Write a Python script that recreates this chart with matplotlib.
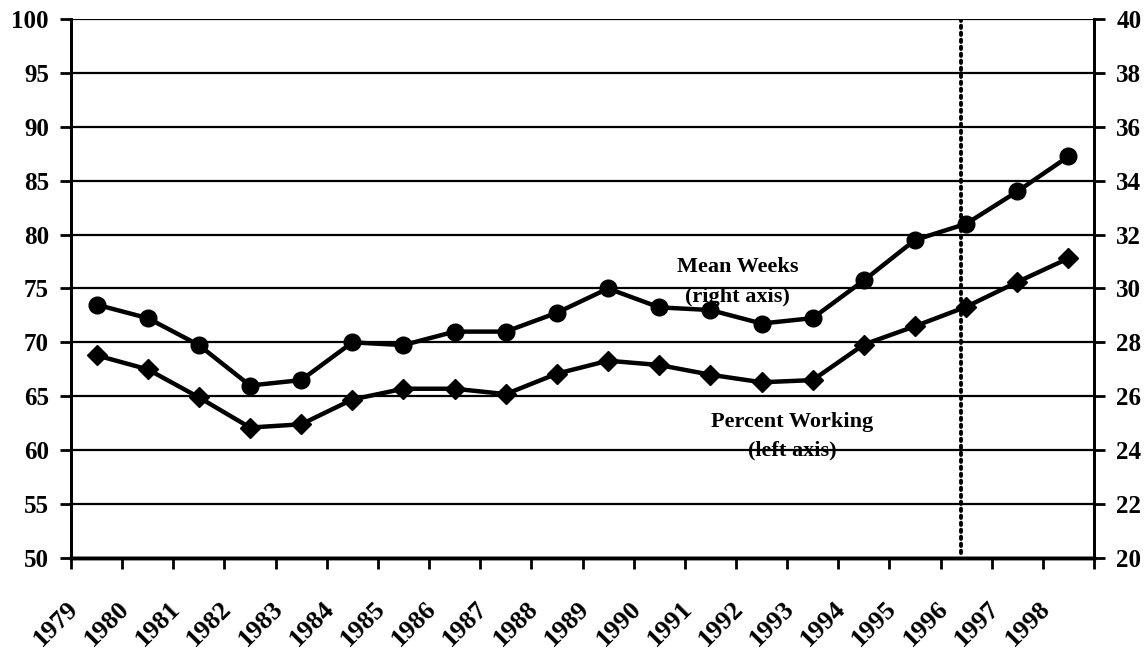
import matplotlib
matplotlib.use("Agg")
import matplotlib.pyplot as plt
from matplotlib.ticker import FixedLocator

plt.rcParams['font.family'] = ['Liberation Serif', 'DejaVu Serif']
plt.rcParams['font.weight'] = 'bold'

years = ['1979', '1980', '1981', '1982', '1983', '1984', '1985', '1986', '1987', '1988',
         '1989', '1990', '1991', '1992', '1993', '1994', '1995', '1996', '1997', '1998']
# percent working (left axis)
pct_working = [68.8, 67.5, 64.9, 62.1, 62.4, 64.7, 65.7, 65.7, 65.2, 67.1,
               68.3, 67.9, 67.0, 66.3, 66.5, 69.8, 71.5, 73.3, 75.6, 77.8]
# mean weeks (right axis)
mean_weeks = [29.4, 28.9, 27.9, 26.4, 26.6, 28.0, 27.9, 28.4, 28.4, 29.1,
              30.0, 29.3, 29.2, 28.7, 28.9, 30.3, 31.8, 32.4, 33.6, 34.9]
left_ticks = [50, 55, 60, 65, 70, 75, 80, 85, 90, 95, 100]
right_ticks = [20, 22, 24, 26, 28, 30, 32, 34, 36, 38, 40]
marker_year = '1996'

x = list(range(len(years)))

fig = plt.figure(figsize=(11.47, 6.51), dpi=100)
ax = fig.add_axes([0.0619, 0.1429, 0.8919, 0.8279])
ax2 = ax.twinx()

ax.set_xlim(-0.5, len(years) - 0.5)
ax.set_ylim(50, 100)
ax2.set_ylim(20, 40)
ax.set_yticks(left_ticks)
ax2.set_yticks(right_ticks)
ax.yaxis.grid(True, color='black', linewidth=1.6)
ax.set_axisbelow(True)

# category boundaries get tick marks, centres get the labels
ax.xaxis.set_major_locator(FixedLocator([i - 0.5 for i in range(len(years) + 1)]))
ax.xaxis.set_minor_locator(FixedLocator([i - 0.27 for i in x]))
ax.set_xticklabels([''] * (len(years) + 1))
ax.set_xticklabels(years, minor=True, rotation=45, ha='right', va='top',
                   fontsize=19, fontweight='bold')
ax.tick_params(axis='x', which='major', length=8, width=2, direction='out', color='black')
ax.tick_params(axis='x', which='minor', length=0, pad=28)

ax.tick_params(axis='y', length=8, width=2, pad=8, labelsize=18)
ax2.tick_params(axis='y', length=8, width=2, pad=8, labelsize=18)
for lab in ax.get_yticklabels() + ax2.get_yticklabels():
    lab.set_fontweight('bold')

for a in (ax, ax2):
    for side in ('left', 'right'):
        a.spines[side].set_linewidth(2)
    a.spines['bottom'].set_linewidth(2.5)
    a.spines['top'].set_visible(False)

ax.plot(x, pct_working, color='black', linewidth=3.2, marker='D', markersize=10, zorder=3)
ax2.plot(x, mean_weeks, color='black', linewidth=3.2, marker='o', markersize=12, zorder=3)

ax.axvline(years.index(marker_year) - 0.1, ymin=0.01, ymax=1, color='black',
           linestyle=(0, (0.6, 1.2)), linewidth=2.8, dash_capstyle='round')

ax.text(12.53, 77.0, 'Mean Weeks', ha='center', va='center', fontsize=16, fontweight='bold')
ax.text(12.53, 74.2, '(right axis)', ha='center', va='center', fontsize=16, fontweight='bold')
ax.text(13.6, 62.6, 'Percent Working', ha='center', va='center', fontsize=16, fontweight='bold')
ax.text(13.6, 60.0, '(left axis)', ha='center', va='center', fontsize=16, fontweight='bold')

fig.savefig('out.png', dpi=100)
